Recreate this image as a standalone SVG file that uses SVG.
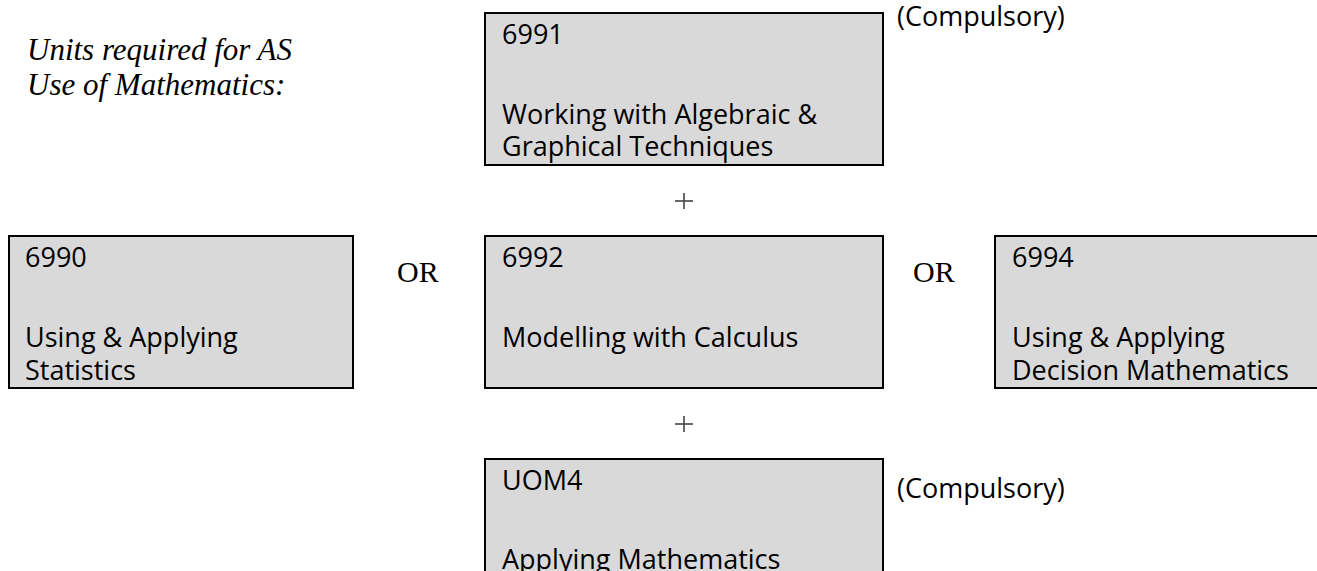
<svg xmlns="http://www.w3.org/2000/svg" width="1317" height="571" viewBox="0 0 1317 571">
  <style>
    .box { fill: #d9d9d9; stroke: #000; stroke-width: 2; }
    .t { font-family: "Open Sans", "Liberation Sans", sans-serif; font-size: 27px; fill: #000; }
    .serif { font-family: "Liberation Serif", "DejaVu Serif", serif; font-size: 30px; fill: #000; }
    .it { font-family: "Liberation Serif", "DejaVu Serif", serif; font-size: 31px; font-style: italic; fill: #000; }
    .plus { stroke: #444; stroke-width: 1.6; }
  </style>
  <rect width="1317" height="571" fill="#fff"/>

  <g id="title">
    <text class="it" x="27" y="60">Units required for AS</text>
    <text class="it" x="27" y="95">Use of Mathematics:</text>
  </g>

  <g id="node-6991">
    <rect class="box" x="485" y="13" width="398" height="152"/>
    <text class="t" x="502" y="44">6991</text>
    <text class="t" x="502" y="124">Working with Algebraic &amp;</text>
    <text class="t" x="502" y="156">Graphical Techniques</text>
  </g>
  <text class="t" x="897" y="26">(Compulsory)</text>

  <g id="node-6990">
    <rect class="box" x="9" y="236" width="344" height="152"/>
    <text class="t" x="25" y="267">6990</text>
    <text class="t" x="25" y="347">Using &amp; Applying</text>
    <text class="t" x="25" y="380">Statistics</text>
  </g>

  <g id="node-6992">
    <rect class="box" x="485" y="236" width="398" height="152"/>
    <text class="t" x="502" y="267">6992</text>
    <text class="t" x="502" y="347">Modelling with Calculus</text>
  </g>

  <g id="node-6994">
    <rect class="box" x="995" y="236" width="340" height="152"/>
    <text class="t" x="1012" y="267">6994</text>
    <text class="t" x="1012" y="347">Using &amp; Applying</text>
    <text class="t" x="1012" y="380">Decision Mathematics</text>
  </g>

  <g id="node-UOM4">
    <rect class="box" x="485" y="459" width="398" height="140"/>
    <text class="t" x="502" y="490">UOM4</text>
    <text class="t" x="502" y="569">Applying Mathematics</text>
  </g>
  <text class="t" x="897" y="498">(Compulsory)</text>

  <g id="connectors">
    <text class="serif" x="397" y="282">OR</text>
    <text class="serif" x="913" y="282">OR</text>
    <g class="plus">
      <line x1="675" y1="201" x2="693" y2="201"/>
      <line x1="684" y1="193" x2="684" y2="209"/>
      <line x1="675" y1="424" x2="693" y2="424"/>
      <line x1="684" y1="416" x2="684" y2="432"/>
    </g>
  </g>
</svg>
